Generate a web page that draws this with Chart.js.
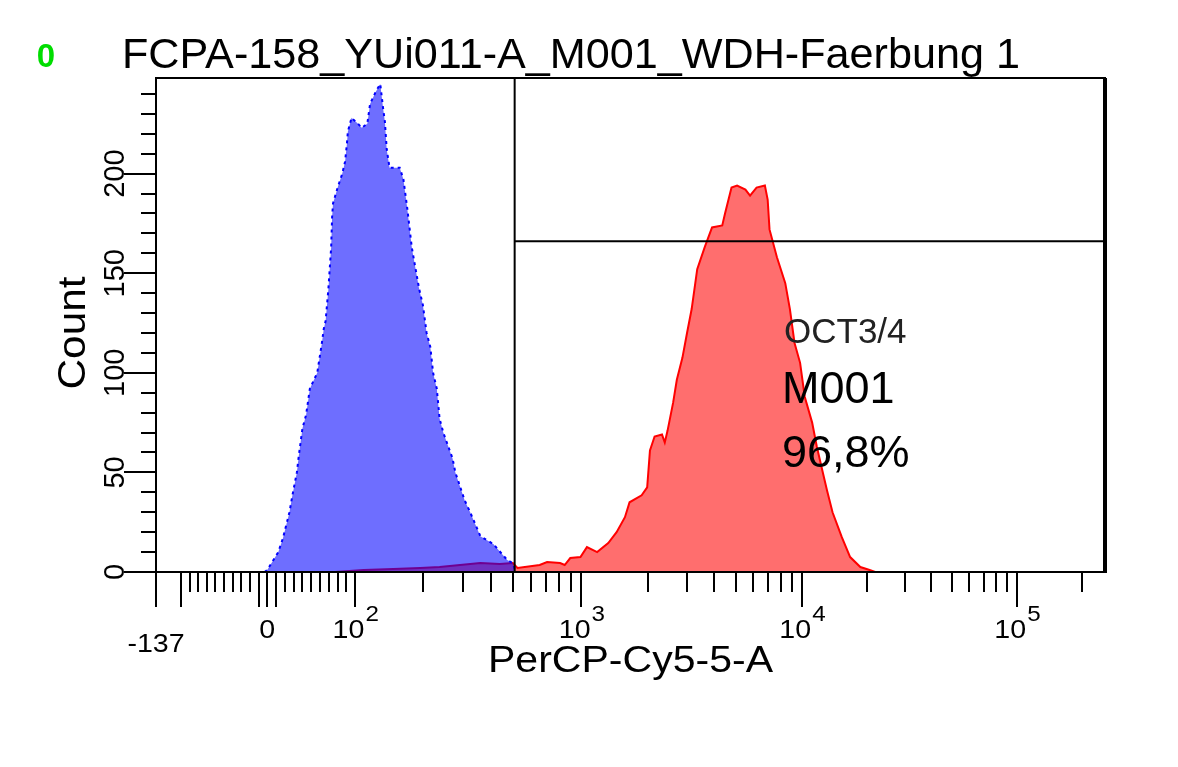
<!DOCTYPE html>
<html>
<head>
<meta charset="utf-8">
<title>FCPA-158 histogram</title>
<script src="https://cdn.jsdelivr.net/npm/chart.js@4.4.0/dist/chart.umd.min.js"></script>
<style>
  html, body { margin: 0; padding: 0; background: #fff; }
  canvas { display: block; }
</style>
</head>
<body>
<canvas id="chart" width="1178" height="767"></canvas>
<script>
// Histogram channels (display scale 0..1024) and event counts
const blueChannel = [117, 120, 132, 137, 144, 147, 152, 154, 158, 162, 166, 174, 179, 181, 183, 186, 188, 189, 190, 191,
  196, 201, 204, 206, 207, 211, 218, 222, 228, 231, 234, 237, 242, 245, 247, 249, 252, 259, 263, 267,
  271, 273, 276, 279, 284, 288, 292, 296, 299, 303, 306, 310, 320, 323, 333, 339, 350, 364, 379, 385, 388];
const blueCount = [0, 1, 10, 17, 30, 38, 50, 58, 72, 79, 92, 100, 115, 122, 126, 142, 156, 163, 178, 185,
  193, 200, 206, 215, 221, 228, 225, 223, 225, 235, 238, 241, 245, 233, 226, 212, 203, 203, 203, 197,
  183, 175, 163, 155, 142, 134, 120, 113, 100, 92, 77, 70, 57, 50, 36, 30, 18, 14, 6, 4.5, 0];

const redChannel = [193, 224, 256, 285, 306, 328, 350, 371, 385, 390, 414, 422, 436, 441, 447, 458, 465, 476, 488, 497,
  506, 511, 524, 530, 533, 538, 546, 549, 552, 558, 562, 568, 573, 578, 584, 592, 600, 611, 614, 621,
  627, 636, 641, 648, 657, 660, 662, 670, 679, 684, 689, 695, 700, 708, 713, 719, 724, 730, 740, 749,
  760, 770, 776];
const redCount = [0, 1, 1.5, 2, 2.5, 3.5, 4.5, 4, 4.5, 2, 3.5, 5, 4.5, 3.5, 7, 7.5, 12.5, 10, 14.5, 20,
  27.5, 35, 38.5, 42.5, 61, 68, 69, 65, 71, 85, 96.5, 107.5, 120, 132, 152, 163, 173, 174, 180, 193,
  194, 192, 189, 193, 194, 187, 172, 158, 145, 132, 115, 105, 88, 75, 63, 51, 41, 30, 17.5, 7.5,
  2.5, 1, 0];

// Marker M001
const gateChannel = 387;
const gateCount = 166;

// Axis calibration: fluorescence value -> display channel
const anchorValues = [-137, -100, 0, 100, 1000, 10000, 100000];
const anchorChannels = [0, 27, 120, 215, 459, 697, 929];

const xMajorTicks = [-137, -100, -10, 0, 10, 100, 1000, 10000, 100000];
const xLabelValues = [-137, 0, 100, 1000, 10000, 100000];
const xLabelBase = ['-137', '0', '10', '10', '10', '10'];
const xLabelExp = ['', '', '2', '3', '4', '5'];

const yMajorTicks = [0, 50, 100, 150, 200];
const yMinorStep = 10;
const yTop = 248;
const channelMax = 1024;

const titleText = 'FCPA-158_YUi011-A_M001_WDH-Faerbung 1';
const xTitle = 'PerCP-Cy5-5-A';
const yTitle = 'Count';
const noteLines = ['OCT3/4', 'M001', '96,8%'];

function toChannel(v) {
  if (v <= 100) {
    for (let i = 0; i < 3; i++) {
      if (v <= anchorValues[i + 1]) {
        const t = (v - anchorValues[i]) / (anchorValues[i + 1] - anchorValues[i]);
        return anchorChannels[i] + t * (anchorChannels[i + 1] - anchorChannels[i]);
      }
    }
  }
  const lv = Math.log10(v);
  let i = 3;
  while (i < anchorValues.length - 2 && v > anchorValues[i + 1]) i++;
  const l0 = Math.log10(anchorValues[i]);
  const l1 = Math.log10(anchorValues[i + 1]);
  return anchorChannels[i] + (lv - l0) / (l1 - l0) * (anchorChannels[i + 1] - anchorChannels[i]);
}

function xMinorTicks() {
  const out = [];
  for (let v = -90; v <= -20; v += 10) out.push(v);
  for (let v = 20; v <= 90; v += 10) out.push(v);
  for (const d of [100, 1000, 10000]) {
    for (let m = 2; m <= 9; m++) out.push(m * d);
  }
  out.push(200000);
  return out;
}

function fitText(ctx, text, x, y, font, width, align) {
  ctx.save();
  ctx.font = font;
  const w = ctx.measureText(text).width;
  const sx = width ? width / w : 1;
  ctx.translate(x, y);
  ctx.scale(sx, 1);
  ctx.textAlign = align || 'left';
  ctx.fillText(text, 0, 0);
  ctx.restore();
}

const axisPlugin = {
  id: 'flowAxes',
  afterDraw(chart) {
    const { ctx, chartArea: area, scales } = chart;
    const xs = scales.x, ys = scales.y;
    ctx.save();
    ctx.strokeStyle = '#000';
    ctx.fillStyle = '#000';
    ctx.lineWidth = 2;

    // frame
    ctx.strokeRect(area.left, area.top, area.right - area.left, area.bottom - area.top);
    ctx.lineWidth = 4;
    ctx.beginPath();
    ctx.moveTo(area.right, area.top);
    ctx.lineTo(area.right, area.bottom + 1);
    ctx.stroke();

    // x ticks
    ctx.lineWidth = 2;
    ctx.beginPath();
    xMajorTicks.forEach(v => {
      const px = Math.round(xs.getPixelForValue(toChannel(v)));
      ctx.moveTo(px, area.bottom);
      ctx.lineTo(px, area.bottom + 35);
    });
    xMinorTicks().forEach(v => {
      const px = Math.round(xs.getPixelForValue(toChannel(v)));
      ctx.moveTo(px, area.bottom);
      ctx.lineTo(px, area.bottom + 20);
    });
    // y ticks
    for (let v = 0; v <= 240; v += yMinorStep) {
      const py = Math.round(ys.getPixelForValue(v));
      const len = yMajorTicks.includes(v) ? 32 : 15;
      ctx.moveTo(area.left, py);
      ctx.lineTo(area.left - len, py);
    }
    ctx.stroke();

    // x tick labels with exponents
    const baseFont = '26px "Liberation Sans", Arial, sans-serif';
    const expFont = '22px "Liberation Sans", Arial, sans-serif';
    xLabelValues.forEach((v, i) => {
      const px = xs.getPixelForValue(toChannel(v));
      ctx.font = baseFont;
      const w1 = ctx.measureText(xLabelBase[i]).width * 1.1;
      ctx.font = expFont;
      const w2 = xLabelExp[i] ? ctx.measureText(xLabelExp[i]).width * 1.1 : 0;
      const start = px - (w1 + w2) / 2;
      const baseY = v < 0 ? area.bottom + 80 : area.bottom + 66;
      fitText(ctx, xLabelBase[i], start, baseY, baseFont, w1);
      if (xLabelExp[i]) fitText(ctx, xLabelExp[i], start + w1 + 1, baseY - 17, expFont, w2);
    });

    // y tick labels (rotated)
    ctx.font = '29px "Liberation Sans", Arial, sans-serif';
    yMajorTicks.forEach(v => {
      const py = ys.getPixelForValue(v);
      ctx.save();
      ctx.translate(area.left - 32, py);
      ctx.rotate(-Math.PI / 2);
      ctx.textAlign = 'center';
      ctx.fillText(String(v), 0, 0);
      ctx.restore();
    });

    // axis titles
    fitText(ctx, xTitle, 488, area.bottom + 100, '36px "Liberation Sans", Arial, sans-serif', 285);
    ctx.save();
    ctx.translate(85, (area.top + area.bottom) / 2 + 8);
    ctx.rotate(-Math.PI / 2);
    fitText(ctx, yTitle, 0, 0, '39px "Liberation Sans", Arial, sans-serif', 113, 'center');
    ctx.restore();

    // header
    fitText(ctx, titleText, 122, 68, '42px "Liberation Sans", Arial, sans-serif', 898);
    ctx.fillStyle = '#00dd00';
    ctx.font = 'bold 33px "Liberation Sans", Arial, sans-serif';
    ctx.textAlign = 'center';
    ctx.fillText('0', 46, 67);

    // marker annotation
    ctx.textAlign = 'left';
    ctx.fillStyle = '#222';
    ctx.font = '35px "Liberation Sans", Arial, sans-serif';
    ctx.fillText(noteLines[0], 784, 343);
    ctx.fillStyle = '#000';
    ctx.font = '45px "Liberation Sans", Arial, sans-serif';
    ctx.fillText(noteLines[1], 782, 403);
    ctx.fillText(noteLines[2], 782, 467);
    ctx.restore();
  }
};

const toPoints = (xs, ys) => xs.map((x, i) => ({ x: x, y: ys[i] }));

new Chart(document.getElementById('chart'), {
  type: 'line',
  data: {
    datasets: [
      {
        label: 'M001',
        data: [{ x: gateChannel, y: 0 }, { x: gateChannel, y: yTop }],
        borderColor: '#000',
        borderWidth: 2,
        pointRadius: 0,
        fill: false,
      },
      {
        label: 'M001 range',
        data: [{ x: gateChannel, y: gateCount }, { x: channelMax, y: gateCount }],
        borderColor: '#000',
        borderWidth: 2,
        pointRadius: 0,
        fill: false,
      },
      {
        label: 'Control',
        data: toPoints(blueChannel, blueCount),
        borderColor: '#0000ff',
        backgroundColor: 'rgba(0, 0, 255, 0.57)',
        borderWidth: 2,
        borderDash: [3, 4],
        pointRadius: 0,
        tension: 0,
        fill: 'origin',
      },
      {
        label: 'OCT3/4',
        data: toPoints(redChannel, redCount),
        borderColor: '#ff0000',
        backgroundColor: 'rgba(255, 0, 0, 0.57)',
        borderWidth: 2,
        pointRadius: 0,
        tension: 0,
        fill: 'origin',
      },
    ],
  },
  options: {
    responsive: false,
    animation: false,
    devicePixelRatio: 1,
    layout: { padding: { left: 156, top: 78, right: 73, bottom: 195 } },
    scales: {
      x: { type: 'linear', min: 0, max: channelMax, display: false },
      y: { type: 'linear', min: 0, max: yTop, display: false },
    },
    plugins: {
      legend: { display: false },
      tooltip: { enabled: false },
    },
  },
  plugins: [axisPlugin],
});
</script>
</body>
</html>
